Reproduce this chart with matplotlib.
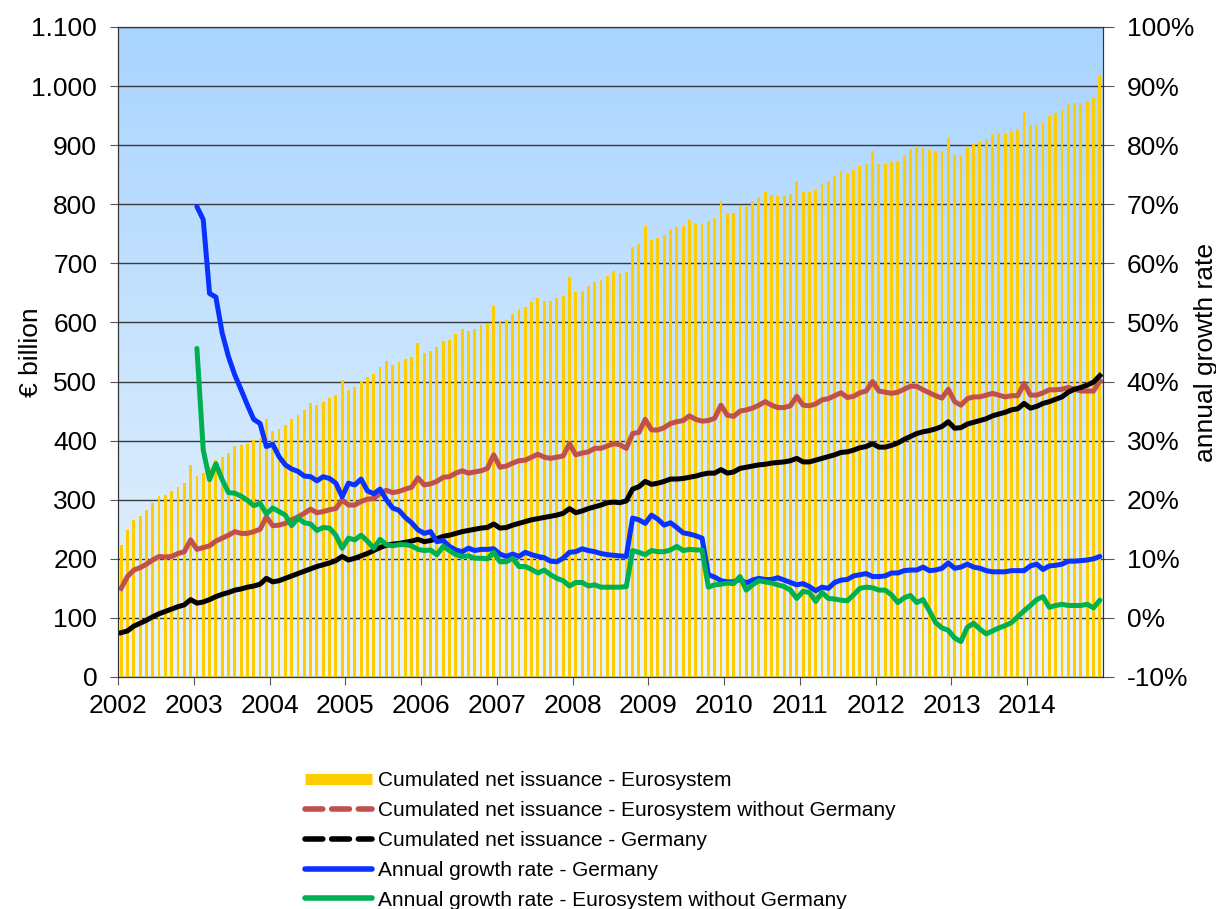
import numpy as np
import matplotlib
matplotlib.use("Agg")
import matplotlib.pyplot as plt
from matplotlib.lines import Line2D
from matplotlib.colors import LinearSegmentedColormap

plt.rcParams['font.family'] = ['Liberation Sans', 'DejaVu Sans']

# monthly values, Jan 2002 - Dec 2014 (EUR billion)
eurosystem = [
    223, 248, 266, 272, 283, 294, 306, 308, 314, 322, 328, 359,
    340, 346, 356, 367, 373, 379, 391, 393, 394, 401, 404, 436,
    417, 420, 426, 436, 444, 452, 463, 460, 466, 472, 477, 503,
    486, 491, 500, 507, 513, 524, 534, 528, 533, 538, 542, 566,
    548, 551, 558, 569, 571, 580, 589, 586, 589, 595, 598, 628,
    602, 604, 614, 622, 626, 634, 641, 637, 637, 642, 645, 677,
    651, 654, 662, 669, 672, 679, 687, 684, 685, 728, 732, 763,
    740, 743, 748, 759, 762, 764, 774, 768, 767, 772, 777, 806,
    785, 785, 797, 798, 806, 813, 821, 815, 814, 816, 817, 840,
    821, 821, 825, 834, 839, 848, 856, 851, 858, 864, 868, 890,
    869, 868, 871, 874, 884, 893, 898, 896, 892, 890, 890, 913,
    884, 881, 896, 902, 906, 911, 919, 920, 919, 924, 928, 957,
    934, 934, 939, 949, 954, 960, 970, 972, 972, 975, 981, 1018,
]
without_germany = [
    150, 170, 181, 185, 191, 198, 204, 203, 204, 209, 212, 232,
    216, 219, 222, 230, 235, 240, 246, 243, 243, 246, 250, 271,
    256, 257, 260, 266, 271, 277, 284, 278, 280, 283, 285, 300,
    291, 291, 297, 301, 302, 311, 316, 312, 314, 318, 321, 337,
    325, 327, 331, 338, 339, 345, 349, 345, 347, 349, 353, 376,
    355, 357, 362, 366, 367, 372, 377, 372, 370, 372, 374, 395,
    376, 379, 381, 387, 387, 391, 395, 393, 387, 412, 414, 436,
    418, 418, 422, 429, 432, 434, 442, 436, 433, 434, 438, 460,
    443, 441, 450, 452, 455, 460, 466, 460, 456, 456, 459, 475,
    460, 459, 462, 469, 471, 476, 481, 473, 475, 481, 484, 500,
    484, 482, 480, 482, 487, 492, 492, 486, 481, 476, 472, 487,
    466, 460, 471, 474, 474, 477, 480, 477, 474, 476, 476, 497,
    477, 477, 481, 486, 486, 487, 490, 487, 484, 484, 484, 501,
]
germany = [
    75, 78, 86, 91, 96, 102, 107, 111, 115, 119, 122, 131,
    125, 127, 131, 136, 140, 143, 147, 149, 152, 154, 157, 167,
    161, 163, 167, 171, 175, 179, 183, 187, 190, 193, 197, 204,
    198, 201, 205, 209, 214, 219, 223, 225, 226, 228, 230, 233,
    229, 231, 234, 238, 240, 243, 246, 248, 250, 252, 253, 259,
    252, 253, 257, 260, 263, 266, 268, 270, 272, 274, 277, 285,
    278, 281, 285, 288, 291, 295, 296, 295, 298, 318, 322, 331,
    326, 328, 331, 335, 335, 336, 338, 340, 343, 345, 345, 351,
    345, 347, 353, 355, 357, 359, 360, 362, 363, 364, 366, 370,
    364, 364, 367, 370, 373, 376, 380, 381, 384, 388, 390, 395,
    389, 389, 392, 396, 402, 407, 412, 415, 417, 420, 424, 432,
    421, 422, 428, 431, 434, 437, 442, 445, 448, 452, 454, 463,
    455, 458, 463, 466, 470, 474, 482, 487, 490, 494, 499, 510,
]
# annual growth rates (%), Jan 2003 - Dec 2014
growth_germany = [
    69.6, 67.4, 54.9, 54.3, 48.2, 44.2, 41.1, 38.6, 36.0, 33.6, 32.9, 29.0,
    29.4, 27.3, 25.9, 25.2, 24.8, 24.0, 23.9, 23.2, 23.9, 23.6, 22.8, 20.5,
    22.8, 22.5, 23.5, 21.5, 21.0, 21.8, 20.0, 18.6, 18.2, 17.0, 16.1, 14.9,
    14.3, 14.6, 12.9, 13.1, 12.1, 11.5, 11.2, 11.8, 11.4, 11.6, 11.6, 11.7,
    10.8, 10.4, 10.8, 10.4, 11.1, 10.7, 10.4, 10.2, 9.6, 9.5, 10.1, 11.1,
    11.2, 11.7, 11.4, 11.2, 10.9, 10.7, 10.6, 10.5, 10.4, 16.9, 16.6, 16.0,
    17.4, 16.7, 15.7, 16.1, 15.3, 14.4, 14.2, 13.9, 13.5, 7.3, 6.9, 6.3,
    6.1, 6.1, 6.5, 5.9, 6.4, 6.7, 6.5, 6.5, 6.8, 6.4, 6.0, 5.6,
    5.8, 5.3, 4.6, 5.2, 5.0, 6.0, 6.4, 6.5, 7.1, 7.3, 7.5, 7.0,
    7.0, 7.1, 7.6, 7.6, 8.0, 8.1, 8.1, 8.6, 8.0, 8.1, 8.4, 9.3,
    8.4, 8.6, 9.1, 8.6, 8.4, 8.0, 7.8, 7.8, 7.8, 8.0, 8.0, 8.0,
    8.8, 9.1, 8.2, 8.8, 8.9, 9.1, 9.6, 9.6, 9.7, 9.8, 10.0, 10.4,
]
growth_without_germany = [
    45.6, 28.4, 23.4, 26.1, 23.4, 21.2, 21.1, 20.6, 19.9, 19.0, 19.4, 17.6,
    18.6, 18.0, 17.4, 15.6, 16.9, 16.1, 15.9, 14.8, 15.3, 15.2, 14.0, 11.8,
    13.5, 13.2, 14.0, 13.0, 11.8, 13.3, 12.4, 12.2, 12.4, 12.4, 12.2, 11.6,
    11.4, 11.5, 10.7, 12.1, 11.4, 10.7, 10.4, 10.5, 10.1, 10.1, 10.0, 11.1,
    9.5, 9.5, 10.1, 8.7, 8.7, 8.2, 7.6, 8.1, 7.3, 6.7, 6.3, 5.4,
    6.0, 6.0, 5.4, 5.6, 5.2, 5.2, 5.2, 5.2, 5.3, 11.4, 11.1, 10.7,
    11.4, 11.2, 11.2, 11.5, 12.1, 11.4, 11.6, 11.5, 11.5, 5.2, 5.6, 5.7,
    5.9, 5.8, 7.0, 4.7, 5.6, 6.3, 6.1, 5.9, 5.6, 5.3, 4.7, 3.3,
    4.5, 4.3, 2.8, 4.3, 3.3, 3.2, 3.0, 2.9, 3.9, 5.0, 5.2, 5.1,
    4.7, 4.7, 3.9, 2.6, 3.4, 3.8, 2.6, 3.1, 1.2, -0.8, -1.7, -2.1,
    -3.4, -4.0, -1.6, -0.9, -1.9, -2.7, -2.2, -1.7, -1.3, -0.8, 0.2, 1.2,
    2.1, 3.1, 3.6, 1.8, 2.1, 2.3, 2.1, 2.1, 2.1, 2.3, 1.7, 3.0,
]
years = list(range(2002, 2015))
left_ticks = list(range(0, 1101, 100))
left_labels = ["0", "100", "200", "300", "400", "500", "600", "700",
               "800", "900", "1.000", "1.100"]
right_ticks = list(range(-10, 101, 10))
labels = ["Cumulated net issuance - Eurosystem",
          "Cumulated net issuance - Eurosystem without Germany",
          "Cumulated net issuance - Germany",
          "Annual growth rate - Germany",
          "Annual growth rate - Eurosystem without Germany"]

YELLOW = "#FFCC00"
BROWN = "#C0504D"
BLUE = "#0A32FF"
GREEN = "#00B050"

t = 2002 + (np.arange(len(eurosystem)) + 0.5) / 12
t_growth = t[12:]

fig = plt.figure(figsize=(12.16, 9.09), dpi=100)
ax = fig.add_axes([118 / 1216, 1 - 677 / 909, 985 / 1216, 650 / 909])

# gradient plot background
grad = LinearSegmentedColormap.from_list("bg", ["#EAF4FC", "#A8D4FF"])
ax.imshow(np.linspace(0, 1, 256).reshape(-1, 1), cmap=grad, origin="lower",
          extent=[2002, 2015, 0, 1100], aspect="auto", zorder=0)

ax.bar(t, eurosystem, width=0.45 / 12, color=YELLOW, zorder=2)
ax.plot(t, without_germany, color=BROWN, lw=3.6, solid_joinstyle="round", zorder=3)
ax.plot(t, germany, color="black", lw=3.6, solid_joinstyle="round", zorder=3)

ax.set_xlim(2002, 2015)
ax.set_ylim(0, 1100)
ax.set_axisbelow(True)
ax.yaxis.grid(True, color="#3a3a3a", lw=1)
ax.set_yticks(left_ticks)
ax.set_yticklabels(left_labels)
ax.set_xticks(years)
ax.set_xticklabels([str(y) for y in years])
ax.tick_params(axis="both", labelsize=19, direction="out", length=6, color="#555555")
ax.tick_params(axis="y", pad=9)
ax.tick_params(axis="x", pad=6)
ax.set_ylabel("€ billion", fontsize=19, labelpad=-8)
for s in ax.spines.values():
    s.set_color("#333333")
ax.spines["top"].set_color("#555555")

ax2 = ax.twinx()
ax2.plot(t_growth, growth_germany, color=BLUE, lw=3.6, solid_joinstyle="round",
         solid_capstyle="round", zorder=4)
ax2.plot(t_growth, growth_without_germany, color=GREEN, lw=3.6,
         solid_joinstyle="round", solid_capstyle="round", zorder=4)
ax2.set_ylim(-10, 100)
ax2.set_yticks(right_ticks)
ax2.set_yticklabels([f"{v}%" for v in right_ticks])
ax2.tick_params(axis="y", labelsize=19, direction="out", length=8, pad=9, color="#555555")
ax2.set_ylabel("annual growth rate", fontsize=19, labelpad=0)
for s in ax2.spines.values():
    s.set_color("#333333")

handles = [
    Line2D([], [], color=YELLOW, lw=8, solid_capstyle="butt"),
    Line2D([], [], color=BROWN, lw=4, ls=(0, (3.2, 1.6)), dash_capstyle="round"),
    Line2D([], [], color="black", lw=4, ls=(0, (3.2, 1.6)), dash_capstyle="round"),
    Line2D([], [], color=BLUE, lw=4, solid_capstyle="round"),
    Line2D([], [], color=GREEN, lw=4, solid_capstyle="round"),
]
fig.legend(handles, labels, loc="upper left", bbox_to_anchor=(295 / 1216, 1 - 761 / 909),
           frameon=False, fontsize=15, handlelength=3.2, handletextpad=0.3,
           labelspacing=0.52, borderpad=0)

fig.savefig("out.png", dpi=100)
